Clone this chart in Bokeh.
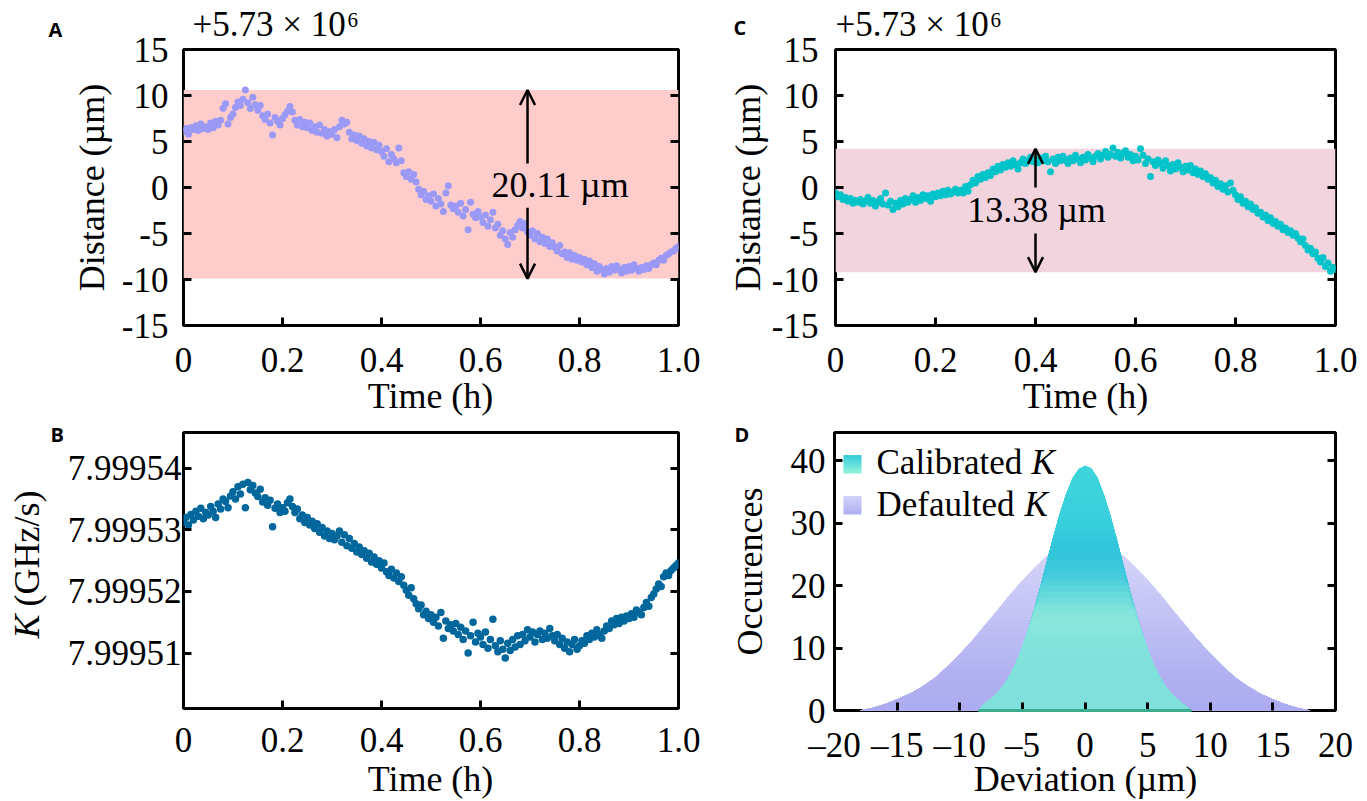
import math
import numpy as np
from bokeh.plotting import figure
from bokeh.models import (Label, Arrow, OpenHead, BoxAnnotation, FixedTicker,
                          CustomJSTickFormatter, LinearAxis, Range1d)
from bokeh.layouts import column, row
from bokeh.embed import file_html
from bokeh.resources import INLINE

# ---------------- data ----------------
time_h = np.linspace(0.0, 1.0, 201)  # sampling grid (h)

dist_a = [
    6.1, 6.4, 5.8, 6.5, 6.3, 6.7, 6.2, 6.9, 6.4, 6.6,
    6.3, 7.0, 6.5, 7.2, 6.8, 7.3, 8.6, 9.1, 6.9, 7.6,
    8.0, 8.7, 9.3, 8.9, 9.6, 10.6, 9.2, 8.6, 9.8, 9.0,
    8.4, 8.9, 7.8, 7.4, 8.0, 7.0, 5.7, 7.6, 7.2, 6.8,
    7.5, 7.9, 8.3, 8.8, 8.2, 7.3, 6.8, 7.4, 6.6, 7.1,
    6.5, 7.0, 6.2, 6.6, 6.0, 6.8, 5.9, 6.3, 5.6, 6.1,
    5.8, 6.3, 5.4, 6.6, 7.3, 6.9, 7.1, 6.0, 5.3, 5.7,
    5.1, 5.6, 4.8, 5.3, 4.5, 5.0, 4.3, 4.9, 4.1, 4.6,
    3.9, 3.4, 4.2, 2.8, 3.6, 3.1, 2.7, 4.3, 2.9, 1.6,
    1.2, 1.7, 0.9, 1.4, 0.6, -0.2, -0.8, -0.4, -1.3, -0.9,
    -1.5, -0.7, -2.0, -1.2, -1.8, -2.6, -0.6, 0.2, -1.9, -2.3,
    -2.0, -2.7, -1.7, -3.1, -2.4, -4.6, -1.6, -2.9, -3.3, -2.6,
    -3.2, -3.8, -3.0, -4.2, -3.5, -2.7, -4.4, -4.0, -5.2, -4.7,
    -5.6, -6.2, -4.9, -5.4, -4.6, -4.1, -3.7, -4.4, -3.9, -4.8,
    -5.2, -4.7, -5.6, -5.0, -5.9, -5.4, -6.1, -5.6, -6.4, -6.0,
    -6.5, -6.9, -6.3, -7.2, -7.0, -7.6, -7.1, -7.8, -7.4, -7.9,
    -7.6, -8.1, -7.8, -8.4, -8.0, -8.7, -8.3, -9.1, -8.6, -8.9,
    -9.4, -8.8, -9.2, -8.6, -9.0, -8.5, -8.9, -9.3, -8.7, -9.1,
    -8.6, -9.0, -8.4, -8.8, -9.1, -8.7, -8.9, -8.5, -8.8, -8.4,
    -8.2, -8.4, -7.9, -7.7, -7.9, -7.4, -7.2, -7.0, -6.9, -6.6,
    -6.4,
]

k_b = [
    7.9995312, 7.9995320, 7.9995308, 7.9995325, 7.9995316, 7.9995330, 7.9995322, 7.9995335, 7.9995318, 7.9995328,
    7.9995324, 7.9995338, 7.9995330, 7.9995320, 7.9995342, 7.9995334, 7.9995350, 7.9995346, 7.9995336, 7.9995355,
    7.9995362, 7.9995350, 7.9995370, 7.9995358, 7.9995374, 7.9995336, 7.9995377, 7.9995365, 7.9995372, 7.9995360,
    7.9995354, 7.9995366, 7.9995345, 7.9995352, 7.9995340, 7.9995348, 7.9995305, 7.9995335, 7.9995342, 7.9995328,
    7.9995336, 7.9995330, 7.9995344, 7.9995350, 7.9995338, 7.9995328, 7.9995334, 7.9995318, 7.9995324, 7.9995312,
    7.9995320, 7.9995308, 7.9995314, 7.9995302, 7.9995310, 7.9995296, 7.9995304, 7.9995290, 7.9995298, 7.9995286,
    7.9995294, 7.9995284, 7.9995290, 7.9995298, 7.9995280, 7.9995292, 7.9995274, 7.9995286, 7.9995270, 7.9995278,
    7.9995264, 7.9995272, 7.9995260, 7.9995266, 7.9995254, 7.9995262, 7.9995248, 7.9995256, 7.9995244, 7.9995250,
    7.9995238, 7.9995246, 7.9995232, 7.9995226, 7.9995236, 7.9995222, 7.9995230, 7.9995216, 7.9995224, 7.9995210,
    7.9995202, 7.9995194, 7.9995206, 7.9995188, 7.9995180, 7.9995172, 7.9995178, 7.9995162, 7.9995168, 7.9995156,
    7.9995162, 7.9995150, 7.9995158, 7.9995144, 7.9995166, 7.9995124, 7.9995152, 7.9995140, 7.9995146, 7.9995136,
    7.9995148, 7.9995130, 7.9995142, 7.9995122, 7.9995136, 7.9995100, 7.9995128, 7.9995150, 7.9995118, 7.9995132,
    7.9995126, 7.9995114, 7.9995134, 7.9995108, 7.9995122, 7.9995155, 7.9995112, 7.9995102, 7.9995120, 7.9995106,
    7.9995092, 7.9995116, 7.9995104, 7.9995122, 7.9995110, 7.9995128, 7.9995114, 7.9995130, 7.9995120, 7.9995138,
    7.9995126, 7.9995134, 7.9995118, 7.9995130, 7.9995136, 7.9995122, 7.9995132, 7.9995124, 7.9995140, 7.9995128,
    7.9995120, 7.9995130, 7.9995114, 7.9995124, 7.9995108, 7.9995118, 7.9995102, 7.9995114, 7.9995122, 7.9995106,
    7.9995112, 7.9995120, 7.9995116, 7.9995128, 7.9995122, 7.9995132, 7.9995126, 7.9995138, 7.9995130, 7.9995124,
    7.9995136, 7.9995144, 7.9995140, 7.9995152, 7.9995146, 7.9995156, 7.9995148, 7.9995158, 7.9995152, 7.9995160,
    7.9995156, 7.9995164, 7.9995158, 7.9995170, 7.9995166, 7.9995162, 7.9995174, 7.9995182, 7.9995176, 7.9995190,
    7.9995196, 7.9995204, 7.9995212, 7.9995208, 7.9995224, 7.9995230, 7.9995226, 7.9995234, 7.9995238, 7.9995242,
    7.9995246,
]

dist_c = [
    -0.6, -1.0, -0.8, -1.3, -1.1, -1.5, -1.2, -1.7, -1.4, -1.6,
    -1.3, -1.8, -1.5, -1.1, -1.7, -1.4, -2.0, -1.6, -1.2, -1.8,
    -0.6, -1.9, -1.5, -2.4, -1.7, -2.1, -1.4, -1.8, -1.2, -1.6,
    -1.3, -0.9, -1.6, -1.1, -1.4, -0.8, -1.2, -0.9, -1.5, -0.7,
    -1.0, -0.6, -0.9, -0.4, -0.8, -0.3, -0.7, -0.5, -0.2, -0.6,
    -0.3, -0.6, 0.1, -0.4, 0.3, 0.8, 0.5, 1.2, 0.9, 1.4,
    1.1, 1.6, 1.3, 2.0, 1.7, 2.3, 1.9, 2.5, 2.2, 2.7,
    2.3, 2.9, 2.5, 2.0, 2.7, 3.1, 2.6, 2.9, 3.3, 2.8,
    3.0, 2.7, 3.2, 2.9, 3.4, 2.8, 1.7, 3.1, 2.6, 3.3,
    2.9, 3.4, 3.0, 2.6, 3.2, 2.9, 3.5, 3.1, 2.7, 3.3,
    3.0, 3.6, 3.2, 2.8, 3.4, 3.7, 3.1, 3.5, 3.9, 3.3,
    3.6, 4.3, 3.4, 3.8, 3.2, 3.7, 4.0, 3.3, 3.6, 2.9,
    3.4, 3.0, 4.2, 3.5, 2.6, 3.1, 1.2, 2.8, 2.4, 3.0,
    2.6, 2.1, 2.9, 2.4, 1.8, 2.5, 2.0, 2.7, 2.2, 1.7,
    2.3, 1.9, 2.4, 1.6, 2.0, 1.4, 1.8, 1.2, 1.5, 0.9,
    1.1, 0.5, 0.8, 0.1, 0.4, -0.2, 0.2, -0.5, 0.5, -0.3,
    -0.8, -1.3, -1.0, -1.7, -1.5, -2.1, -1.8, -2.4, -2.2, -2.8,
    -2.7, -3.2, -3.0, -3.6, -3.3, -3.9, -3.7, -4.2, -4.0, -4.6,
    -4.4, -4.9, -4.7, -5.2, -5.0, -5.5, -5.9, -5.6, -6.3, -6.8,
    -6.6, -7.2, -7.0, -7.7, -8.1, -7.6, -8.6, -8.2, -9.1, -8.7,
    -8.9,
]

band_a = [-9.9, 10.6]      # shaded range, panel A (µm)
band_c = [-9.2, 4.2]       # shaded range, panel C (µm)
arrow_a = {"x": 0.695, "up": [2.6, 10.6], "down": [-2.2, -9.9]}
arrow_c = {"x": 0.40, "up": [0.0, 4.2], "down": [-5.0, -9.2]}
text_a = "20.11 µm"
text_c = "13.38 µm"

dev_cal = [-8.5, -8.0, -7.5, -7.0, -6.5, -6.0, -5.5, -5.0, -4.5, -4.0, -3.5, -3.0,
           -2.5, -2.0, -1.5, -1.0, -0.5, 0.0, 0.5, 1.0, 1.5, 2.0, 2.5, 3.0, 3.5,
           4.0, 4.5, 5.0, 5.5, 6.0, 6.5, 7.0, 7.5, 8.0, 8.5]
occ_cal = [0.0, 1.2, 1.9, 2.8, 4.0, 5.7, 7.7, 10.2, 13.2, 16.6, 20.3, 24.2,
           28.0, 31.6, 34.7, 37.2, 38.7, 39.2, 38.8, 37.3, 34.6, 31.4, 27.7, 23.8, 19.9,
           16.2, 12.8, 9.8, 7.3, 5.3, 3.7, 2.5, 1.6, 0.8, 0.0]
dev_def = [-18, -17, -16, -15, -14, -13, -12, -11, -10, -9, -8, -7, -6, -5, -4, -3, -2, -1, 0,
           1, 2, 3, 4, 5, 6, 7, 8, 9, 10, 11, 12, 13, 14, 15, 16, 17, 18]
occ_def = [0.0, 0.4, 1.0, 1.8, 2.7, 3.8, 5.2, 7.0, 9.0, 11.2, 13.6, 16.0, 18.5, 20.8, 22.9, 24.8, 26.1, 27.0, 27.4,
           27.1, 26.2, 24.9, 23.0, 20.9, 18.6, 16.1, 13.7, 11.3, 9.1, 7.1, 5.3, 3.9, 2.7, 1.8, 1.0, 0.4, 0.0]

x_ticks_time = [0, 0.2, 0.4, 0.6, 0.8, 1.0]
y_ticks_dist = [-15, -10, -5, 0, 5, 10, 15]
y_ticks_k = [7.99951, 7.99952, 7.99953, 7.99954]
x_ticks_dev = [-20, -15, -10, -5, 0, 5, 10, 15, 20]
y_ticks_occ = [0, 10, 20, 30, 40]

# ---------------- style ----------------
SERIF = "Liberation Serif"
FS_TICK = "35px"
FS = "36px"
C_A = "#9a9af6"
C_B = "#00679c"
C_C = "#00c4c9"

fmt_time = CustomJSTickFormatter(code="return tick == 0 ? '0' : tick.toFixed(1);")
fmt_int = CustomJSTickFormatter(code="return String(Math.round(tick));")
fmt_k = CustomJSTickFormatter(code="return tick.toFixed(5);")
fmt_dev = CustomJSTickFormatter(code="return tick < 0 ? '\u2013' + Math.abs(tick) : String(tick);")


def make_fig(fw, fh, bl, br, bt, bb, xr, yr, xt, yt, xfmt, yfmt, ystand, xstand):
    p = figure(frame_width=fw, frame_height=fh,
               min_border_left=bl, min_border_right=br,
               min_border_top=bt, min_border_bottom=bb,
               x_range=Range1d(*xr), y_range=Range1d(*yr),
               output_backend="svg", toolbar_location=None, title=None)
    p.grid.visible = False
    p.outline_line_color = "black"
    p.outline_line_width = 3
    p.outline_line_alpha = 1.0
    p.background_fill_color = "white"
    p.border_fill_color = "white"
    p.xaxis.ticker = FixedTicker(ticks=xt)
    p.yaxis.ticker = FixedTicker(ticks=yt)
    p.xaxis.formatter = xfmt
    p.yaxis.formatter = yfmt
    p.xaxis.major_label_standoff = xstand
    p.yaxis.major_label_standoff = ystand
    rax = LinearAxis(ticker=FixedTicker(ticks=yt),
                     formatter=CustomJSTickFormatter(code="return '';"),
                     major_label_standoff=0)
    p.add_layout(rax, "right")
    p.axis.axis_line_color = None
    p.axis.major_tick_in = 8
    p.axis.major_tick_out = 0
    p.axis.major_tick_line_width = 3
    p.axis.major_tick_line_color = "black"
    p.axis.minor_tick_line_color = None
    p.axis.major_label_text_font = SERIF
    p.axis.major_label_text_font_style = "normal"
    p.axis.major_label_text_font_size = FS_TICK
    p.axis.major_label_text_color = "black"
    return p


def dist_panel(p, band, color, ys, dot_color, arr, txt, txt_x, txt_y, txt_align):
    p.add_layout(BoxAnnotation(bottom=band[0], top=band[1], fill_color=color,
                               fill_alpha=1.0, line_color=None, level="underlay"))
    p.scatter(time_h, ys, size=7, fill_color=dot_color, line_color=None)
    for seg in (arr["up"], arr["down"]):
        p.add_layout(Arrow(end=OpenHead(size=15, line_width=2.5, line_color="black"),
                           x_start=arr["x"], y_start=seg[0], x_end=arr["x"], y_end=seg[1],
                           line_width=2.5, line_color="black"))
    p.add_layout(Label(x=txt_x, y=txt_y, text=txt, text_font=SERIF, text_font_size=FS,
                       text_align=txt_align, text_baseline="alphabetic", text_color="black"))


# ---------------- panel A ----------------
pA = make_fig(495, 276, 183, 22, 49, 91, (0, 1), (-15, 15), x_ticks_time, y_ticks_dist,
              fmt_time, fmt_int, 15, 22)
dist_panel(pA, band_a, "#ffcccc", dist_a, C_A, arrow_a, text_a, 0.622, 0.3, "left")

# ---------------- panel C ----------------
pC = make_fig(500, 276, 135, 32, 49, 91, (0, 1), (-15, 15), x_ticks_time, y_ticks_dist,
              fmt_time, fmt_int, 17, 22)
dist_panel(pC, band_c, "#f1d4dd", dist_c, C_C, arrow_c, text_c, 0.402, -2.4, "center")

# ---------------- panel B ----------------
pB = make_fig(495, 276, 183, 22, 16, 92, (0, 1), (7.999501, 7.9995458), x_ticks_time, y_ticks_k,
              fmt_time, fmt_k, 2, 19)
pB.scatter(time_h, k_b, size=7.5, fill_color=C_B, line_color=None)

# ---------------- panel D ----------------
pD = make_fig(501, 278, 134, 32, 16, 90, (-20, 20), (0, 44.5), x_ticks_dev, y_ticks_occ,
              fmt_dev, fmt_int, 9, 15)


def hex2rgb(h):
    return tuple(int(h[i:i + 2], 16) for i in (1, 3, 5))


def color_at(stops, yv):
    if yv <= stops[0][0]:
        return stops[0][1]
    if yv >= stops[-1][0]:
        return stops[-1][1]
    for (y0, c0), (y1, c1) in zip(stops, stops[1:]):
        if y0 <= yv <= y1:
            f = (yv - y0) / (y1 - y0)
            a, b = hex2rgb(c0), hex2rgb(c1)
            return "#%02x%02x%02x" % tuple(int(round(a[i] + (b[i] - a[i]) * f)) for i in range(3))
    return stops[-1][1]


def gradient_area(p, xs, ys, stops, step=1.0):
    ys = np.asarray(ys, dtype=float)
    top = float(ys.max())
    caps = [top] + list(np.arange(math.floor(top), 0, -step))
    for c in caps:
        p.varea(x=xs, y1=0, y2=np.minimum(ys, c), fill_color=color_at(stops, c - step / 2),
                fill_alpha=1.0)


def_stops = [(0, "#acacf0"), (5, "#b0b0f1"), (10, "#b8b8f3"), (15, "#c2c2f5"),
             (20, "#cbcbf6"), (25, "#d3d3f8"), (28, "#d8d8f9")]
cal_stops = [(0, "#7edfdc"), (10, "#82e3dc"), (15, "#8ae7dc"), (18, "#6ddcdc"),
             (22, "#40cadc"), (26, "#30c4dc"), (30, "#38cfdc"), (40, "#3fd6dc")]

gradient_area(pD, dev_def, occ_def, def_stops)
gradient_area(pD, dev_cal, occ_cal, cal_stops)
pD.line(dev_cal, [0] * len(dev_cal), line_color="#3aae8e", line_width=3, level="overlay")


def legend_square(p, left, bottom, c_top, c_bot, n=6):
    h = 18.0 / n
    for i in range(n):
        col = color_at([(0, c_bot), (n - 1, c_top)], i)
        p.add_layout(BoxAnnotation(left=left, right=left + 18, bottom=bottom + i * h,
                                   top=bottom + (i + 1) * h + 0.5,
                                   left_units="screen", right_units="screen",
                                   bottom_units="screen", top_units="screen",
                                   fill_color=col, fill_alpha=1.0, line_color=None))


def flab(p, x, y, text, style="normal"):
    p.add_layout(Label(x=x, y=y, x_units="screen", y_units="screen", text=text,
                       text_font=SERIF, text_font_size="35px", text_font_style=style,
                       text_align="left", text_baseline="alphabetic", text_color="black"))


legend_square(pD, 9, 237, "#3ccfd8", "#8cf0dc")
legend_square(pD, 9, 196, "#cfcff8", "#b0b0f2")
flab(pD, 42, 248, "Calibrated")
flab(pD, 197, 248, "K", style="italic")
flab(pD, 42, 206, "Defaulted")
flab(pD, 190, 206, "K", style="italic")

# ---------------- overlay for texts outside the frames (page pixel coordinates) ----------------
ov = figure(width=1367, height=800, x_range=Range1d(0, 1367), y_range=Range1d(800, 0),
            x_axis_type=None, y_axis_type=None,
            min_border_left=0, min_border_right=0, min_border_top=0, min_border_bottom=0,
            output_backend="svg", toolbar_location=None, title=None,
            background_fill_color=None, border_fill_color=None, outline_line_color=None,
            styles={"position": "absolute", "top": "0px", "left": "0px", "z-index": "10",
                    "pointer-events": "none"})
ov.grid.visible = False


def olab(x, y, text, size=FS, font=SERIF, style="normal", align="left", angle=0.0):
    ov.add_layout(Label(x=x, y=y, text=text, text_font=font, text_font_size=size,
                        text_font_style=style, text_align=align, text_baseline="alphabetic",
                        angle=angle, text_color="black"))


# panel letters
for letter, lx, ly in (("A", 48, 29), ("B", 50, 434), ("C", 733, 27), ("D", 734, 434)):
    olab(lx, ly, letter, size="20px", font="Open Sans", style="bold")
# offsets above A and C
olab(192, 24, "+5.73 × 10", size="35px")
olab(347, 19, "6", size="21px")
olab(835, 24, "+5.73 × 10", size="35px")
olab(990, 19, "6", size="21px")
# axis titles
olab(91, 187, "Distance (µm)", align="center", angle=math.pi / 2)
olab(430, 395, "Time (h)", align="center")
olab(747, 187, "Distance (µm)", align="center", angle=math.pi / 2)
olab(1085, 395, "Time (h)", align="center")
olab(26, 638, "K", style="italic", angle=math.pi / 2)
olab(26, 606, "(GHz/s)", angle=math.pi / 2)
olab(430, 778, "Time (h)", align="center")
olab(749, 571, "Occurences", align="center", angle=math.pi / 2)
olab(1085, 778, "Deviation (µm)", align="center")

layout = column(row(pA, pC), row(pB, pD), ov)
open("out.html", "w").write(file_html(layout, INLINE))
